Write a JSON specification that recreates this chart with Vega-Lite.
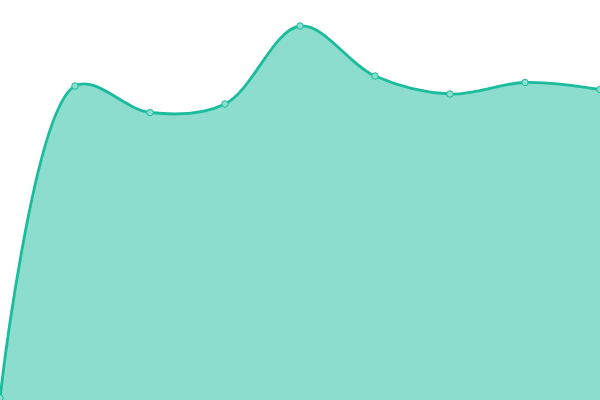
{
  "$schema": "https://vega.github.io/schema/vega-lite/v6.json",
  "width": 600,
  "height": 400,
  "autosize": {"type": "none"},
  "padding": 0,
  "background": "white",
  "config": {"view": {"stroke": null}},
  "data": {
    "values": [
      {"step": 0, "value": 2},
      {"step": 1, "value": 314},
      {"step": 2, "value": 287.5},
      {"step": 3, "value": 296},
      {"step": 4, "value": 374},
      {"step": 5, "value": 324},
      {"step": 6, "value": 306},
      {"step": 7, "value": 317.5},
      {"step": 8, "value": 310.5}
    ]
  },
  "encoding": {
    "x": {"field": "step", "type": "quantitative", "scale": {"domain": [0, 8], "nice": false}, "axis": null},
    "y": {"field": "value", "type": "quantitative", "scale": {"domain": [0, 400], "nice": false, "zero": true}, "axis": null}
  },
  "layer": [
    {
      "mark": {"type": "area", "interpolate": "catmull-rom", "color": "#1abc9c", "fillOpacity": 0.5,
               "line": {"color": "#1abc9c", "strokeWidth": 2.8}}
    },
    {
      "mark": {"type": "point", "filled": true, "size": 42, "fill": "#8ddece", "stroke": "#1abc9c", "strokeWidth": 1, "opacity": 1}
    }
  ]
}
